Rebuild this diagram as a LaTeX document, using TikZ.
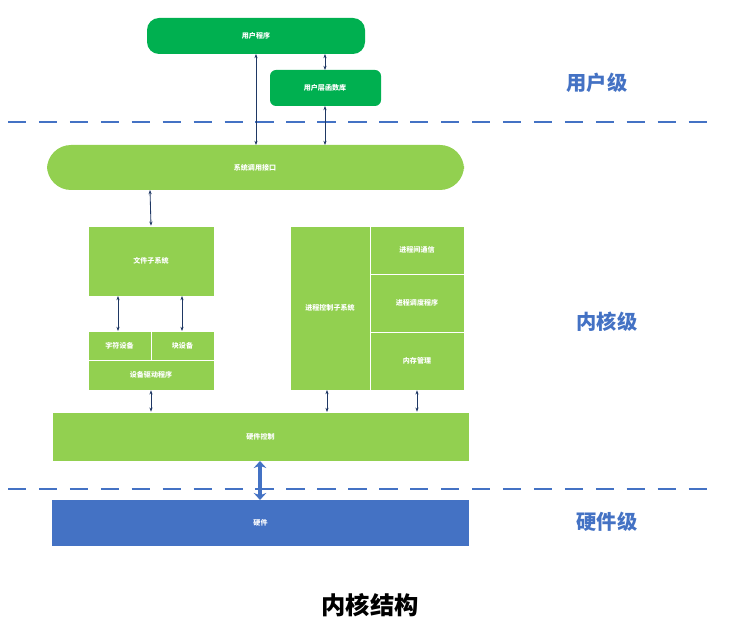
\documentclass[tikz,border=0pt]{standalone}
\usepackage{fontspec}
\setmainfont{Noto Sans CJK SC}
\usetikzlibrary{arrows.meta,positioning}
\definecolor{dgreen}{HTML}{00B050}
\definecolor{lgreen}{HTML}{92D050}
\definecolor{hwblue}{HTML}{4472C4}
\definecolor{navy}{HTML}{1F3864}

\begin{document}
\begin{tikzpicture}[
    x=0.025cm, y=-0.025cm,
    box/.style={draw=white, fill=lgreen, text=white, font=\tiny\bfseries, align=center, inner sep=1pt},
    pill/.style={fill=dgreen, text=white, font=\tiny\bfseries, rounded corners=3mm},
    level/.style={text=hwblue, font=\Large\bfseries},
    arrow/.style={{Stealth[length=3pt]}-{Stealth[length=3pt]}, navy, semithick},
    sep/.style={hwblue, dash pattern=on 13pt off 9pt, thick}
]
\useasboundingbox (0,0) rectangle (737,629);

% User level
\node[pill, minimum width=218\pgflinewidth, minimum height=36\pgflinewidth] (app) at (256,36) {};
\path[pill] (147,18) rectangle (365,54);
\node[text=white, font=\tiny\bfseries] (appt) at (256,36) {用户程序};
\path[pill, rounded corners=1.5mm] (270,70) rectangle (381,106);
\node[text=white, font=\tiny\bfseries] (lib) at (325,88) {用户层函数库};
\node[level] (ulvl) at (597,83) {用户级};

\draw[sep] (8,122) -- (712,122);

% Kernel level
\path[fill=lgreen, rounded corners=6mm] (47,145) rectangle (464,190);
\node[text=white, font=\tiny\bfseries] (sci) at (255,168) {系统调用接口};

\node[box, minimum width=126*0.025cm, minimum height=70*0.025cm] (fs) at (151,261) {文件子系统};
\node[box, minimum width=63*0.025cm, minimum height=29*0.025cm] (chr) at (119.5,345.5) {字符设备};
\node[box, minimum width=63*0.025cm, minimum height=29*0.025cm] (blk) at (182.5,345.5) {块设备};
\node[box, minimum width=126*0.025cm, minimum height=30*0.025cm] (drv) at (151,375) {设备驱动程序};

\node[box, minimum width=80*0.025cm, minimum height=164*0.025cm, text width=70*0.025cm] (pcs) at (330,308) {进程控制子系统};
\node[box, minimum width=94*0.025cm, minimum height=48*0.025cm] (ipc) at (417,250) {进程间通信};
\node[box, minimum width=94*0.025cm, minimum height=58*0.025cm] (sched) at (417,303) {进程调度程序};
\node[box, minimum width=94*0.025cm, minimum height=58*0.025cm] (mem) at (417,361) {内存管理};

\node[box, minimum width=417*0.025cm, minimum height=49*0.025cm] (hwc) at (260.5,436.5) {硬件控制};
\node[level] (klvl) at (607,322) {内核级};

\draw[sep] (8,489) -- (712,489);

% Hardware level
\node[box, draw=none, fill=hwblue, minimum width=417*0.025cm, minimum height=46*0.025cm] (hw) at (260.5,523) {硬件};
\node[level] (hlvl) at (607,522) {硬件级};

\node[font=\LARGE\bfseries] (title) at (370,605) {内核结构};

% Arrows
\draw[arrow] (256,54) -- (256,145);
\draw[arrow] (325,54) -- (lib.north |- 0,70);
\draw[arrow] (325,106) -- (325,145);
\draw[arrow] (150,190) -- (fs.north);
\draw[arrow] (118,296) -- (118,331);
\draw[arrow] (182,296) -- (182,331);
\draw[arrow] (drv.south) -- (hwc.north -| drv.south);
\draw[arrow] (327,390) -- (327,412);
\draw[arrow] (mem.south) -- (hwc.north -| mem.south);
\draw[{Stealth[length=5pt,width=9pt]}-{Stealth[length=5pt,width=9pt]}, hwblue, line width=3pt] (260,461) -- (260,500);
\end{tikzpicture}
\end{document}
